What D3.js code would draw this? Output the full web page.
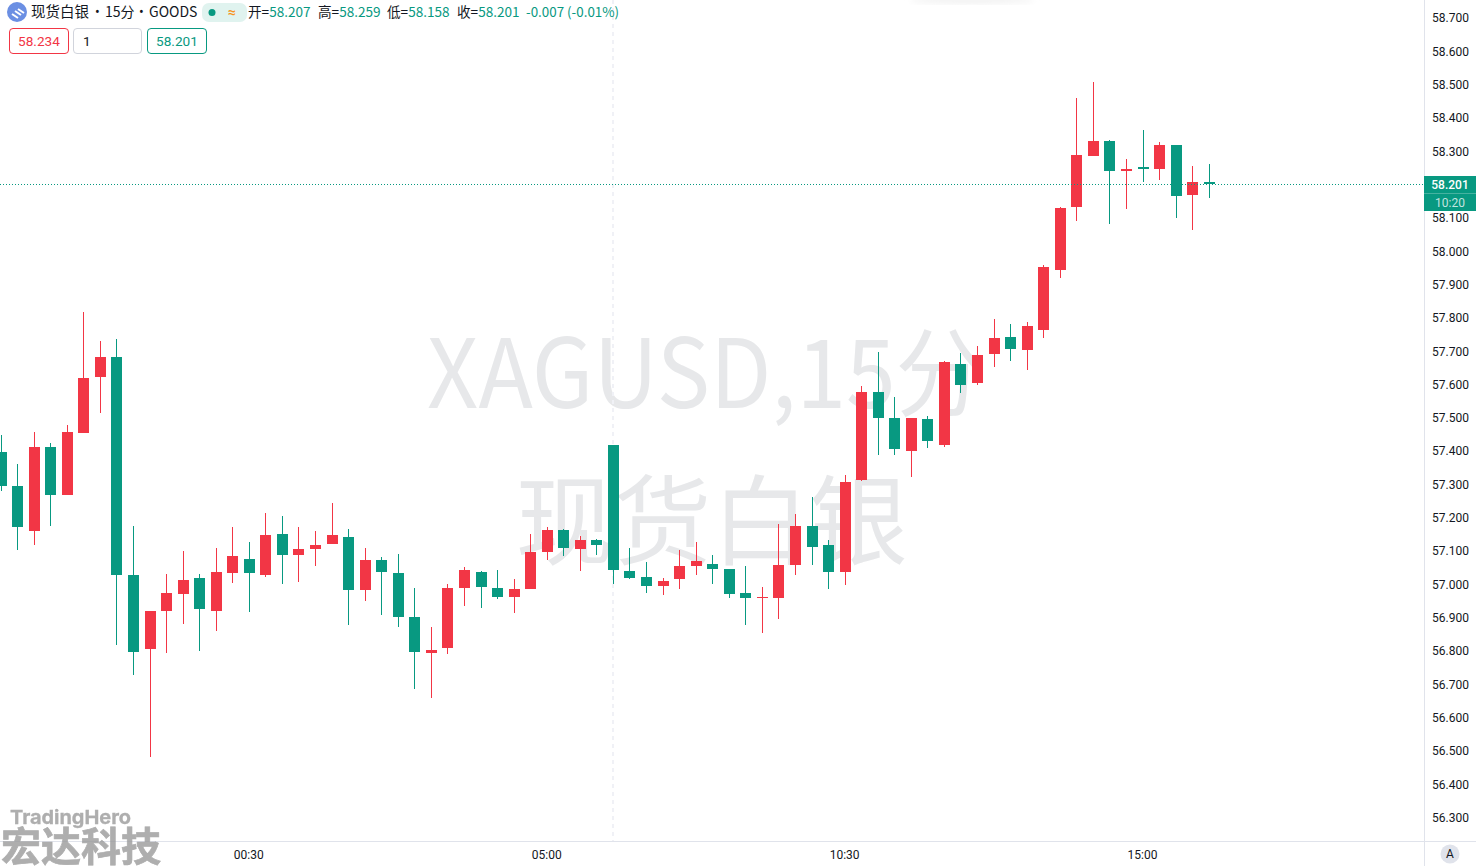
<!DOCTYPE html>
<html>
<head>
<meta charset="utf-8">
<script src="https://cdn.jsdelivr.net/npm/d3@7"></script>
<style>
  html, body { margin: 0; padding: 0; background: #fff; overflow: hidden; }
  text { font-family: Roboto, "Noto Sans CJK SC", sans-serif; }
  .axis text { font-size: 12px; fill: #131722; }
  .cjk { font-family: "Noto Sans CJK SC", sans-serif; }
</style>
</head>
<body>
<div id="chart"></div>
<script>
// Data ---------------------------------------------------------------------------------------------
const open = [57.397,57.295,57.160,57.412,57.268,57.454,57.622,57.682,57.028,56.806,56.920,56.971,57.019,56.920,57.034,57.076,57.028,57.151,57.088,57.106,57.121,57.142,56.983,57.073,57.034,56.902,56.794,56.808,56.988,57.037,56.988,56.961,56.986,57.097,57.163,57.106,57.133,57.418,57.040,57.021,56.994,57.016,57.055,57.061,57.046,56.974,56.959,56.959,57.058,57.175,57.118,57.037,57.313,57.577,57.499,57.400,57.496,57.418,57.660,57.604,57.691,57.742,57.703,57.763,57.943,58.132,58.284,58.329,58.239,58.252,58.246,58.317,58.168,58.207];
const high = [57.448,57.361,57.457,57.424,57.478,57.817,57.730,57.736,57.175,56.920,57.031,57.100,57.031,57.109,57.172,57.127,57.214,57.205,57.172,57.160,57.244,57.166,57.109,57.082,57.091,56.988,56.872,57.000,57.052,57.040,57.043,57.016,57.151,57.172,57.166,57.145,57.136,57.418,57.109,57.066,57.019,57.103,57.127,57.088,57.046,57.055,56.991,57.181,57.211,57.261,57.133,57.328,57.595,57.697,57.562,57.499,57.505,57.669,57.693,57.715,57.796,57.781,57.787,57.958,58.132,58.459,58.506,58.332,58.276,58.362,58.327,58.317,58.255,58.259];
const low = [57.280,57.103,57.118,57.175,57.268,57.454,57.514,56.818,56.728,56.482,56.794,56.881,56.800,56.860,57.004,56.917,57.022,57.001,57.007,57.055,57.121,56.878,56.950,56.908,56.872,56.686,56.659,56.790,56.934,56.928,56.955,56.913,56.986,57.073,57.085,57.040,57.088,57.001,57.016,56.973,56.968,56.986,57.028,57.001,56.959,56.878,56.853,56.895,57.028,57.058,56.986,56.998,57.310,57.388,57.388,57.322,57.409,57.412,57.573,57.597,57.652,57.670,57.643,57.739,57.919,58.090,58.284,58.080,58.126,58.207,58.213,58.099,58.062,58.158];
const close = [57.295,57.172,57.412,57.268,57.457,57.619,57.682,57.028,56.797,56.920,56.974,57.013,56.926,57.037,57.085,57.034,57.148,57.088,57.106,57.118,57.148,56.983,57.073,57.037,56.902,56.797,56.803,56.988,57.043,56.992,56.961,56.986,57.097,57.163,57.109,57.133,57.118,57.043,57.019,56.994,57.010,57.055,57.070,57.046,56.971,56.959,56.961,57.058,57.175,57.112,57.037,57.307,57.577,57.499,57.406,57.499,57.430,57.666,57.597,57.688,57.739,57.706,57.775,57.952,58.129,58.287,58.329,58.239,58.246,58.246,58.317,58.164,58.207,58.201];

const priceTicks = [58.7,58.6,58.5,58.4,58.3,58.1,58.0,57.9,57.8,57.7,57.6,57.5,57.4,57.3,57.2,57.1,57.0,56.9,56.8,56.7,56.6,56.5,56.4,56.3];
const timeTickBars = [15, 33, 51, 69];
const timeTickLabels = ["00:30", "05:00", "10:30", "15:00"];
const sessionBreakBar = 37;
const lastPrice = 58.201;

const legendItems = [
  {label: "开=", value: "58.207", x: 248},
  {label: "高=", value: "58.259", x: 318},
  {label: "低=", value: "58.158", x: 387},
  {label: "收=", value: "58.201", x: 457}
];

// Colours ------------------------------------------------------------------------------------------
const upColor = "#f23645", downColor = "#089981", gridLine = "#e0e3eb", inkColor = "#131722";

// Dimensions ---------------------------------------------------------------------------------------
const width = 1476, height = 866, plotRight = 1424, plotBottom = 841;

const svg = d3.select("#chart").append("svg")
  .attr("width", width)
  .attr("height", height)
  .style("display", "block");

// Scales -------------------------------------------------------------------------------------------
const x = d3.scaleLinear().domain([0, 73]).range([1.06, 1209.21]);
const y = d3.scaleLinear().domain([58.7, 56.3]).range([17.5, 817.42]);

// Faint shadow at the top edge ---------------------------------------------------------------------
svg.append("filter").attr("id", "soft").append("feGaussianBlur").attr("stdDeviation", 3);
svg.append("ellipse").attr("cx", 972).attr("cy", 0).attr("rx", 62).attr("ry", 4)
  .attr("fill", "#f2f2f2").attr("filter", "url(#soft)");

// Watermark ----------------------------------------------------------------------------------------
const watermark = svg.append("g").attr("fill", "#e7e8ea");
watermark.append("text").attr("class", "cjk").attr("x", 427).attr("y", 408)
  .attr("font-size", 96).attr("textLength", 558).attr("lengthAdjust", "spacingAndGlyphs")
  .text("XAGUSD,15分");
watermark.append("text").attr("class", "cjk").attr("x", 711.5).attr("y", 557).attr("text-anchor", "middle")
  .attr("font-size", 98).text("现货白银");

// Session break ------------------------------------------------------------------------------------
svg.append("line")
  .attr("x1", Math.floor(x(sessionBreakBar))).attr("x2", Math.floor(x(sessionBreakBar)))
  .attr("y1", 0).attr("y2", plotBottom)
  .attr("stroke", "#f0f1f6").attr("stroke-width", 2)
  .attr("stroke-dasharray", "4,4");

// Candles ------------------------------------------------------------------------------------------
const candles = svg.append("g").selectAll("g")
  .data(open.map((d, i) => ({i, open: d, high: high[i], low: low[i], close: close[i]})))
  .join("g")
  .attr("fill", d => d.close >= d.open ? upColor : downColor)
  .attr("shape-rendering", "crispEdges");

candles.append("rect")
  .attr("x", d => Math.floor(x(d.i)))
  .attr("width", 1)
  .attr("y", d => Math.round(y(d.high)))
  .attr("height", d => Math.round(y(d.low)) - Math.round(y(d.high)));

candles.append("rect")
  .attr("x", d => Math.floor(x(d.i)) - 5)
  .attr("width", 11)
  .attr("y", d => Math.round(y(Math.max(d.open, d.close))))
  .attr("height", d => Math.max(1, Math.round(y(Math.min(d.open, d.close))) - Math.round(y(Math.max(d.open, d.close)))));

// Last price line ----------------------------------------------------------------------------------
svg.append("line")
  .attr("x1", 0).attr("x2", plotRight)
  .attr("y1", Math.round(y(lastPrice)) + 0.5).attr("y2", Math.round(y(lastPrice)) + 0.5)
  .attr("stroke", downColor).attr("stroke-width", 1)
  .attr("shape-rendering", "crispEdges")
  .attr("stroke-dasharray", "1,2");

// Axes ---------------------------------------------------------------------------------------------
svg.append("line").attr("x1", plotRight + 0.5).attr("x2", plotRight + 0.5)
  .attr("y1", 0).attr("y2", height).attr("stroke", gridLine);
svg.append("line").attr("x1", 0).attr("x2", width)
  .attr("y1", plotBottom + 0.5).attr("y2", plotBottom + 0.5).attr("stroke", gridLine);

const yAxis = svg.append("g").attr("class", "axis")
  .attr("transform", `translate(${plotRight + 8},0.365)`)
  .call(d3.axisRight(y).tickValues(priceTicks).tickSize(0).tickPadding(0).tickFormat(d3.format(".3f")));
yAxis.select(".domain").remove();

const xAxis = svg.append("g").attr("class", "axis")
  .attr("transform", `translate(-1,${plotBottom + 9})`)
  .call(d3.axisBottom(x).tickValues(timeTickBars).tickSize(0).tickPadding(0)
    .tickFormat((d, i) => timeTickLabels[i]));
xAxis.select(".domain").remove();

// Last price label ---------------------------------------------------------------------------------
const priceTag = svg.append("g");
priceTag.append("rect").attr("x", plotRight).attr("y", 176).attr("width", width - plotRight).attr("height", 35)
  .attr("fill", downColor);
priceTag.append("line").attr("x1", plotRight).attr("x2", width).attr("y1", 193.5).attr("y2", 193.5)
  .attr("stroke", "#ffffff").attr("stroke-opacity", 0.25);
priceTag.append("text").attr("x", 1450).attr("y", 185).attr("dy", "0.35em").attr("text-anchor", "middle")
  .attr("font-size", 12).attr("font-weight", 500).attr("fill", "#fff").text(d3.format(".3f")(lastPrice));
priceTag.append("text").attr("x", 1450).attr("y", 203).attr("dy", "0.35em").attr("text-anchor", "middle")
  .attr("font-size", 12).attr("fill", "#fff").attr("fill-opacity", 0.75).text("10:20");

// Auto scale button --------------------------------------------------------------------------------
svg.append("circle").attr("cx", 1450).attr("cy", 854).attr("r", 9.5).attr("fill", gridLine);
svg.append("text").attr("x", 1450).attr("y", 854).attr("dy", "0.35em").attr("text-anchor", "middle")
  .attr("font-size", 12).attr("fill", inkColor).text("A");

// Legend row ---------------------------------------------------------------------------------------
const head = svg.append("g");
head.append("circle").attr("cx", 17).attr("cy", 12).attr("r", 10).attr("fill", "#6b8fe3");
[[-5, 0], [-2, -3], [1, -5]].forEach(o => {
  head.append("path")
    .attr("d", `M${17 + o[0]} ${12 + o[1] + 2}l6 4`)
    .attr("stroke", "#fff").attr("stroke-width", 2);
});
const title = head.append("text").attr("class", "cjk").attr("y", 17).attr("font-size", 14).attr("fill", inkColor);
title.append("tspan").attr("x", 31).attr("font-size", 14.5).text("现货白银");
title.append("tspan").attr("x", 95).style("font-family", "Roboto").text("•");
title.append("tspan").attr("x", 105).text("15分");
title.append("tspan").attr("x", 139).style("font-family", "Roboto").text("•");
title.append("tspan").attr("x", 149).text("GOODS");

head.append("rect").attr("x", 202).attr("y", 3).attr("width", 45).attr("height", 19).attr("rx", 7)
  .attr("fill", "#e0f3ef");
head.append("circle").attr("cx", 212).attr("cy", 12.5).attr("r", 3.5).attr("fill", downColor);
head.append("text").attr("x", 232).attr("y", 17).attr("text-anchor", "middle")
  .attr("font-size", 14).attr("font-weight", 700).attr("fill", "#f7931e").text("≈");

legendItems.forEach(d => {
  const t = head.append("text").attr("class", "cjk").attr("x", d.x).attr("y", 17).attr("font-size", 13.6);
  t.append("tspan").attr("fill", inkColor).text(d.label);
  t.append("tspan").attr("fill", downColor).text(d.value);
});
head.append("text").attr("class", "cjk").attr("x", 526).attr("y", 17).attr("font-size", 13.4)
  .attr("fill", downColor).text("-0.007 (-0.01%)");

// Buy / sell boxes ---------------------------------------------------------------------------------
const boxes = [
  {x: 9, w: 60, stroke: upColor, color: upColor, label: "58.234", anchor: "middle"},
  {x: 73, w: 69, stroke: "#d1d4dc", color: inkColor, label: "1", anchor: "start"},
  {x: 147, w: 60, stroke: downColor, color: downColor, label: "58.201", anchor: "middle"}
];
boxes.forEach(b => {
  head.append("rect").attr("x", b.x + 0.5).attr("y", 28.5).attr("width", b.w - 1).attr("height", 25).attr("rx", 3.5)
    .attr("fill", "#fff").attr("stroke", b.stroke);
  head.append("text").attr("x", b.anchor === "middle" ? b.x + b.w / 2 : b.x + 10).attr("y", 46)
    .attr("text-anchor", b.anchor).attr("font-size", 13.6).attr("fill", b.color).text(b.label);
});

// Brand mark ---------------------------------------------------------------------------------------
const brand = svg.append("g").attr("fill", "#9a9a9a").attr("stroke", "#9a9a9a").attr("opacity", 0.8);
brand.append("text").attr("x", 10).attr("y", 824).attr("font-size", 19).attr("font-weight", 700)
  .attr("stroke-width", 0.3)
  .style("font-family", "Inter, sans-serif").attr("textLength", 121).attr("lengthAdjust", "spacingAndGlyphs")
  .text("TradingHero");
brand.append("text").attr("class", "cjk").attr("x", 1).attr("y", 861).attr("font-size", 40).attr("font-weight", 700)
  .attr("stroke-width", 0.7)
  .text("宏达科技");
</script>
</body>
</html>
